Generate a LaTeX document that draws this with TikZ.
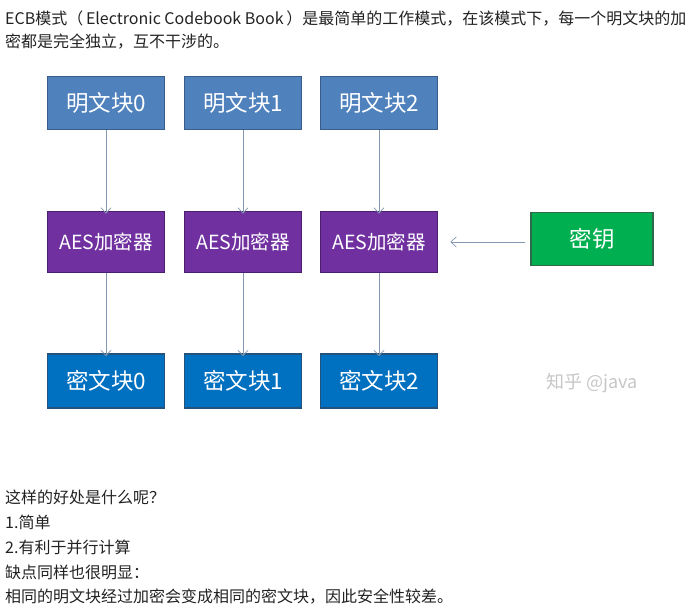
\documentclass[tikz,border=0pt]{standalone}
\usepackage{fontspec}
\setmainfont{Noto Sans CJK SC}
\usetikzlibrary{arrows.meta}
\definecolor{ptfill}{HTML}{4F81BD}
\definecolor{ptdraw}{HTML}{385D8A}
\definecolor{aesfill}{HTML}{7030A0}
\definecolor{aesdraw}{HTML}{4B1F6E}
\definecolor{keyfill}{HTML}{00B050}
\definecolor{keydraw}{HTML}{2E6B4A}
\definecolor{ctfill}{HTML}{0070C0}
\definecolor{ctdraw}{HTML}{24527A}
\definecolor{arr}{HTML}{8497B0}
\definecolor{txt}{HTML}{222222}
\tikzset{
  box/.style={draw, line width=1.5pt, minimum width=117pt, minimum height=53pt, inner sep=0pt, text=white, font=\fontsize{22.5}{26}\selectfont},
  ptbox/.style={box, fill=ptfill, draw=ptdraw},
  aesbox/.style={box, fill=aesfill, draw=aesdraw, minimum height=61pt, font=\fontsize{19.5}{22}\selectfont},
  keybox/.style={box, fill=keyfill, draw=keydraw, minimum width=122pt},
  ctbox/.style={box, fill=ctfill, draw=ctdraw, minimum height=54pt},
  conn/.style={draw=arr, line width=0.7pt, -{Straight Barb[length=5.5pt,width=10pt]}},
  para/.style={anchor=west, inner sep=0pt, text=txt, font=\fontsize{16}{19}\selectfont}
}
\begin{document}
\begin{tikzpicture}[x=1pt,y=-1pt]
\useasboundingbox (0,0) rectangle (696,610);
\node[para] (t1) at (5,19) {ECB模式（\,Electronic Codebook Book\,）是最简单的工作模式，在该模式下，每一个明文块的加};
\node[para] (t2) at (5,42) {密都是完全独立，互不干涉的。};

\node[ptbox] (p0) at (106,103) {明文块0};
\node[ptbox] (p1) at (243,103) {明文块1};
\node[ptbox] (p2) at (379,103) {明文块2};

\node[aesbox] (a0) at (106,242) {AES加密器};
\node[aesbox] (a1) at (243,242) {AES加密器};
\node[aesbox] (a2) at (379,242) {AES加密器};
\node[keybox] (k) at (592,239) {密钥};

\node[ctbox] (c0) at (106,381) {密文块0};
\node[ctbox] (c1) at (243,381) {密文块1};
\node[ctbox] (c2) at (379,381) {密文块2};

\node[inner sep=0pt, text=gray!45, font=\fontsize{18}{20}\selectfont] (wm) at (592,383) {知乎 @java};

\foreach \i in {0,1,2}{
  \draw[conn] (p\i.south) -- ([yshift=-3pt]a\i.north);
  \draw[conn] (a\i.south) -- ([yshift=-3pt]c\i.north);
}
\draw[conn] ([xshift=-5pt]k.west |- a2.east) -- ([xshift=12pt]a2.east);

\node[para] (b1) at (5,497) {这样的好处是什么呢？};
\node[para] (b2) at (5,522) {1.简单};
\node[para] (b3) at (5,547) {2.有利于并行计算};
\node[para] (b4) at (5,572) {缺点同样也很明显：};
\node[para] (b5) at (5,597) {相同的明文块经过加密会变成相同的密文块，因此安全性较差。};
\end{tikzpicture}
\end{document}
